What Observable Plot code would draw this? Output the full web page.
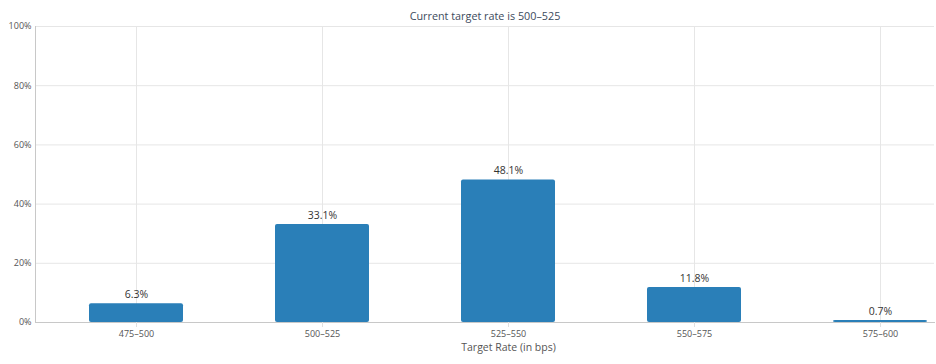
<!DOCTYPE html>
<html><head><meta charset="utf-8">
<script src="https://cdn.jsdelivr.net/npm/d3@7"></script>
<script src="https://cdn.jsdelivr.net/npm/@observablehq/plot@0.6"></script>
<style>body{margin:0;background:#fff}</style>
</head><body><div id="chart"></div>
<script>
const categories = ["475–500", "500–525", "525–550", "550–575", "575–600"];
const probabilities = [6.3, 33.1, 48.1, 11.8, 0.7];
const yTicks = [0, 20, 40, 60, 80, 100];
const title = "Current target rate is 500–525";
const xLabel = "Target Rate (in bps)";

const data = categories.map((c, i) => ({range: c, p: probabilities[i]}));

const chart = Plot.plot({
  width: 936, height: 364,
  marginLeft: 35, marginRight: 2, marginTop: 26, marginBottom: 42,
  style: {fontFamily: "'Open Sans', sans-serif", fontSize: "9px", color: "#555", background: "#fff"},
  x: {domain: categories, range: [35, 981], paddingInner: 0.495, paddingOuter: 0.29, axis: null},
  y: {domain: [0, 100], axis: null},
  marks: [
    Plot.gridY(yTicks, {stroke: "#e6e6e6", strokeOpacity: 1}),
    Plot.gridX(categories, {stroke: "#e6e6e6", strokeOpacity: 1}),
    Plot.barY(data, {x: "range", y: "p", fill: "#2a7fb8", rx: 2}),
    Plot.frame({anchor: "left", stroke: "#c8c8c8"}),
    Plot.frame({anchor: "bottom", stroke: "#c8c8c8"}),
    Plot.axisY(yTicks, {tickSize: 0, tickPadding: 4, tickFormat: d => d + "%", label: null, fill: "#555", fontSize: 9}),
    Plot.axisX({tickSize: 5, tickPadding: 3, stroke: "#e0e0e0", label: null, fill: "#555", fontSize: 9, letterSpacing: "0.2px"}),
    Plot.text(data, {x: "range", y: "p", text: d => d.p.toFixed(1) + "%", dy: -9, fontSize: 10.5, fill: "#333", letterSpacing: "0.5px"}),
    Plot.text([title], {frameAnchor: "top", dy: -14, fontSize: 10.8, fill: "#3c4a5c"}),
    Plot.text([xLabel], {x: () => categories[2], frameAnchor: "bottom", dy: 28, fontSize: 10.5, fill: "#555"})
  ]
});
document.getElementById("chart").append(chart);
</script>
</body></html>
